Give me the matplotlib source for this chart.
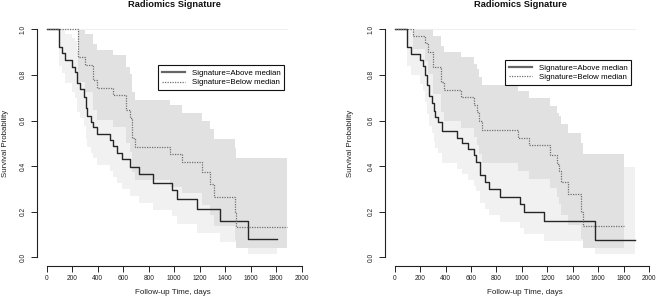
import matplotlib
matplotlib.use("Agg")
import matplotlib.pyplot as plt
from matplotlib.lines import Line2D

plt.rcParams['font.family'] = ['Liberation Sans', 'DejaVu Sans']

title = "Radiomics Signature"
xlabel = "Follow-up Time, days"
ylabel = "Survival Probability"
legend_labels = ["Signature=Above median", "Signature=Below median"]
xticks = [0, 200, 400, 600, 800, 1000, 1200, 1400, 1600, 1800, 2000]
yticks = [0.0, 0.2, 0.4, 0.6, 0.8, 1.0]
ytick_labels = ["0.0", "0.2", "0.4", "0.6", "0.8", "1.0"]

# ---- Left panel ----
solid_L_t = [0, 99, 120, 144, 196, 222, 240, 261, 293, 308, 319, 345, 361, 392, 497, 523, 554, 588, 654, 727, 831, 980, 1020, 1180, 1362, 1575]
solid_L_s = [1, .921, .898, .865, .836, .814, .763, .737, .705, .653, .62, .595, .573, .541, .515, .488, .459, .43, .398, .365, .326, .293, .254, .21, .159, .079]
solid_L_up = [1, 1.0, 1.0, .981, .962, .947, .911, .891, .866, .823, .795, .774, .754, .725, .701, .676, .648, .62, .589, .555, .517, .48, .44, .39, .34, .41]
solid_L_lo = [1, .839, .807, .763, .726, .699, .639, .609, .574, .518, .484, .458, .435, .404, .378, .352, .325, .298, .269, .24, .207, .18, .147, .107, .065, .015]
solid_L_end = 1807

dotted_L_t = [0, 248, 301, 366, 397, 523, 622, 654, 672, 693, 967, 1059, 1216, 1281, 1312, 1477, 1485]
dotted_L_s = [1, .877, .843, .778, .741, .712, .646, .61, .522, .483, .453, .42, .374, .321, .266, .193, .131]
dotted_L_up = [1, .998, .979, .936, .91, .887, .834, .804, .727, .69, .668, .632, .60, .561, .518, .48, .434]
dotted_L_lo = [1, .771, .726, .647, .603, .571, .50, .463, .375, .339, .307, .28, .229, .185, .137, .078, .04]
dotted_L_end = 1888

# ---- Right panel ----
solid_R_t = [0, 97, 128, 199, 219, 240, 254, 267, 293, 306, 319, 340, 375, 492, 533, 575, 620, 640, 668, 712, 738, 828, 982, 1013, 1176, 1576]
solid_R_s = [1, .921, .893, .864, .838, .798, .754, .706, .677, .642, .617, .595, .553, .525, .50, .475, .447, .42, .36, .33, .30, .265, .232, .199, .159, .078]
solid_R_up = [1, 1.0, .997, .981, .964, .936, .904, .867, .844, .814, .793, .774, .736, .71, .687, .664, .636, .609, .55, .518, .485, .45, .418, .38, .348, .396]
solid_R_lo = [1, .839, .80, .761, .729, .68, .629, .575, .543, .506, .48, .458, .415, .388, .364, .34, .314, .29, .236, .21, .186, .156, .129, .104, .073, .016]
solid_R_end = 1890

dotted_R_t = [0, 144, 241, 262, 300, 362, 390, 520, 622, 648, 665, 684, 972, 1059, 1219, 1280, 1296, 1310, 1366, 1468, 1478]
dotted_R_s = [1, .97, .94, .90, .835, .768, .733, .705, .669, .637, .60, .56, .525, .491, .447, .41, .38, .33, .276, .20, .136]
dotted_R_up = [1, 1.0, 1.0, 1.0, .971, .927, .90, .879, .85, .824, .792, .757, .728, .699, .662, .631, .62, .586, .543, .50, .455]
dotted_R_lo = [1, .913, .862, .803, .718, .636, .597, .565, .527, .493, .455, .414, .378, .345, .302, .266, .233, .186, .14, .08, .041]
dotted_R_end = 1800

LIGHT = '#f1f1f1'
DARK = '#e1e1e1'
SOLID_C = '#262626'
DOT_C = '#707070'

W, H = 658, 306
fig = plt.figure(figsize=(W / 100, H / 100), dpi=100)


def ext(t, s, end):
    return list(t) + [end], list(s) + [s[-1]]


def band(ax, t, up, lo, end, color):
    tt, uu = ext(t[1:], up[1:], end)
    _, ll = ext(t[1:], lo[1:], end)
    ax.fill_between(tt, ll, uu, step='post', color=color, lw=0, zorder=1)


def panel(rect, sL, dL, title_dx, xlab_x, ylab_x, legend_xy):
    ax = fig.add_axes(rect)
    (st, ss, su, sl, se) = sL
    (dt, ds, du, dl, de) = dL
    band(ax, st, su, sl, se, LIGHT)
    band(ax, dt, du, dl, de, DARK)
    ax.plot([st[1], max(se, de)], [1, 1], color='#ececec', lw=0.6, zorder=1.5)
    x, y = ext(st, ss, se)
    ax.step(x, y, where='post', color=SOLID_C, lw=1.0, zorder=3)
    x, y = ext(dt, ds, de)
    ax.step(x, y, where='post', color=DOT_C, lw=0.9, linestyle=(0, (1, 1)), zorder=3)

    ax.set_xlim(-80, 2080)
    ax.set_ylim(-0.04, 1.04)
    for s in ['top', 'right']:
        ax.spines[s].set_visible(False)
    ax.spines['left'].set_bounds(0, 1)
    ax.spines['bottom'].set_bounds(0, 2000)
    for s in ['left', 'bottom']:
        ax.spines[s].set_linewidth(0.8)
        ax.spines[s].set_color('#222222')
    ax.set_xticks(xticks)
    ax.set_xticklabels([str(v) for v in xticks])
    ax.set_yticks(yticks)
    ax.set_yticklabels(ytick_labels, rotation=90, va='center')
    ax.tick_params(axis='both', direction='out', length=4, width=0.7, color='#222222',
                   labelsize=4.8, labelcolor='#222222')
    ax.tick_params(axis='x', pad=2.4)
    ax.tick_params(axis='y', pad=3.2)

    ax.text(0.5 + title_dx, 1.062, title, transform=ax.transAxes, ha='center', va='center',
            fontsize=6.7, fontweight='bold', color='#111111')
    ax.text(xlab_x, -0.104, xlabel, transform=ax.transAxes, ha='center', va='center',
            fontsize=5.8, color='#222222')
    ax.text(ylab_x, 0.501, ylabel, transform=ax.transAxes, ha='center', va='center',
            rotation=90, fontsize=5.7, color='#222222')

    handles = [Line2D([], [], color='#666666', lw=1.6),
               Line2D([], [], color=DOT_C, lw=0.9, linestyle=(0, (1, 1)))]
    leg = ax.legend(handles, legend_labels, loc='upper left',
                    bbox_to_anchor=legend_xy, bbox_transform=fig.transFigure,
                    fontsize=5.7, frameon=True, fancybox=False, framealpha=1,
                    edgecolor='#111111', handlelength=3.0, handletextpad=0.8,
                    borderpad=0.5, labelspacing=0.25, borderaxespad=0)
    leg.get_frame().set_linewidth(0.8)
    leg.set_zorder(5)
    return ax


panel([36.5 / W, (H - 266.4) / H, 275.4 / W, 246.2 / H],
      (solid_L_t, solid_L_s, solid_L_up, solid_L_lo, solid_L_end),
      (dotted_L_t, dotted_L_s, dotted_L_up, dotted_L_lo, dotted_L_end),
      0.0, 0.4956, -0.114, (157.7 / W, 1 - 65.3 / H))

panel([384.5 / W, (H - 266.4) / H, 274.7 / W, 246.2 / H],
      (solid_R_t, solid_R_s, solid_R_up, solid_R_lo, solid_R_end),
      (dotted_R_t, dotted_R_s, dotted_R_up, dotted_R_lo, dotted_R_end),
      -0.004, 0.511, -0.122, (504.7 / W, 1 - 60.0 / H))

fig.savefig("out.png", dpi=100)
